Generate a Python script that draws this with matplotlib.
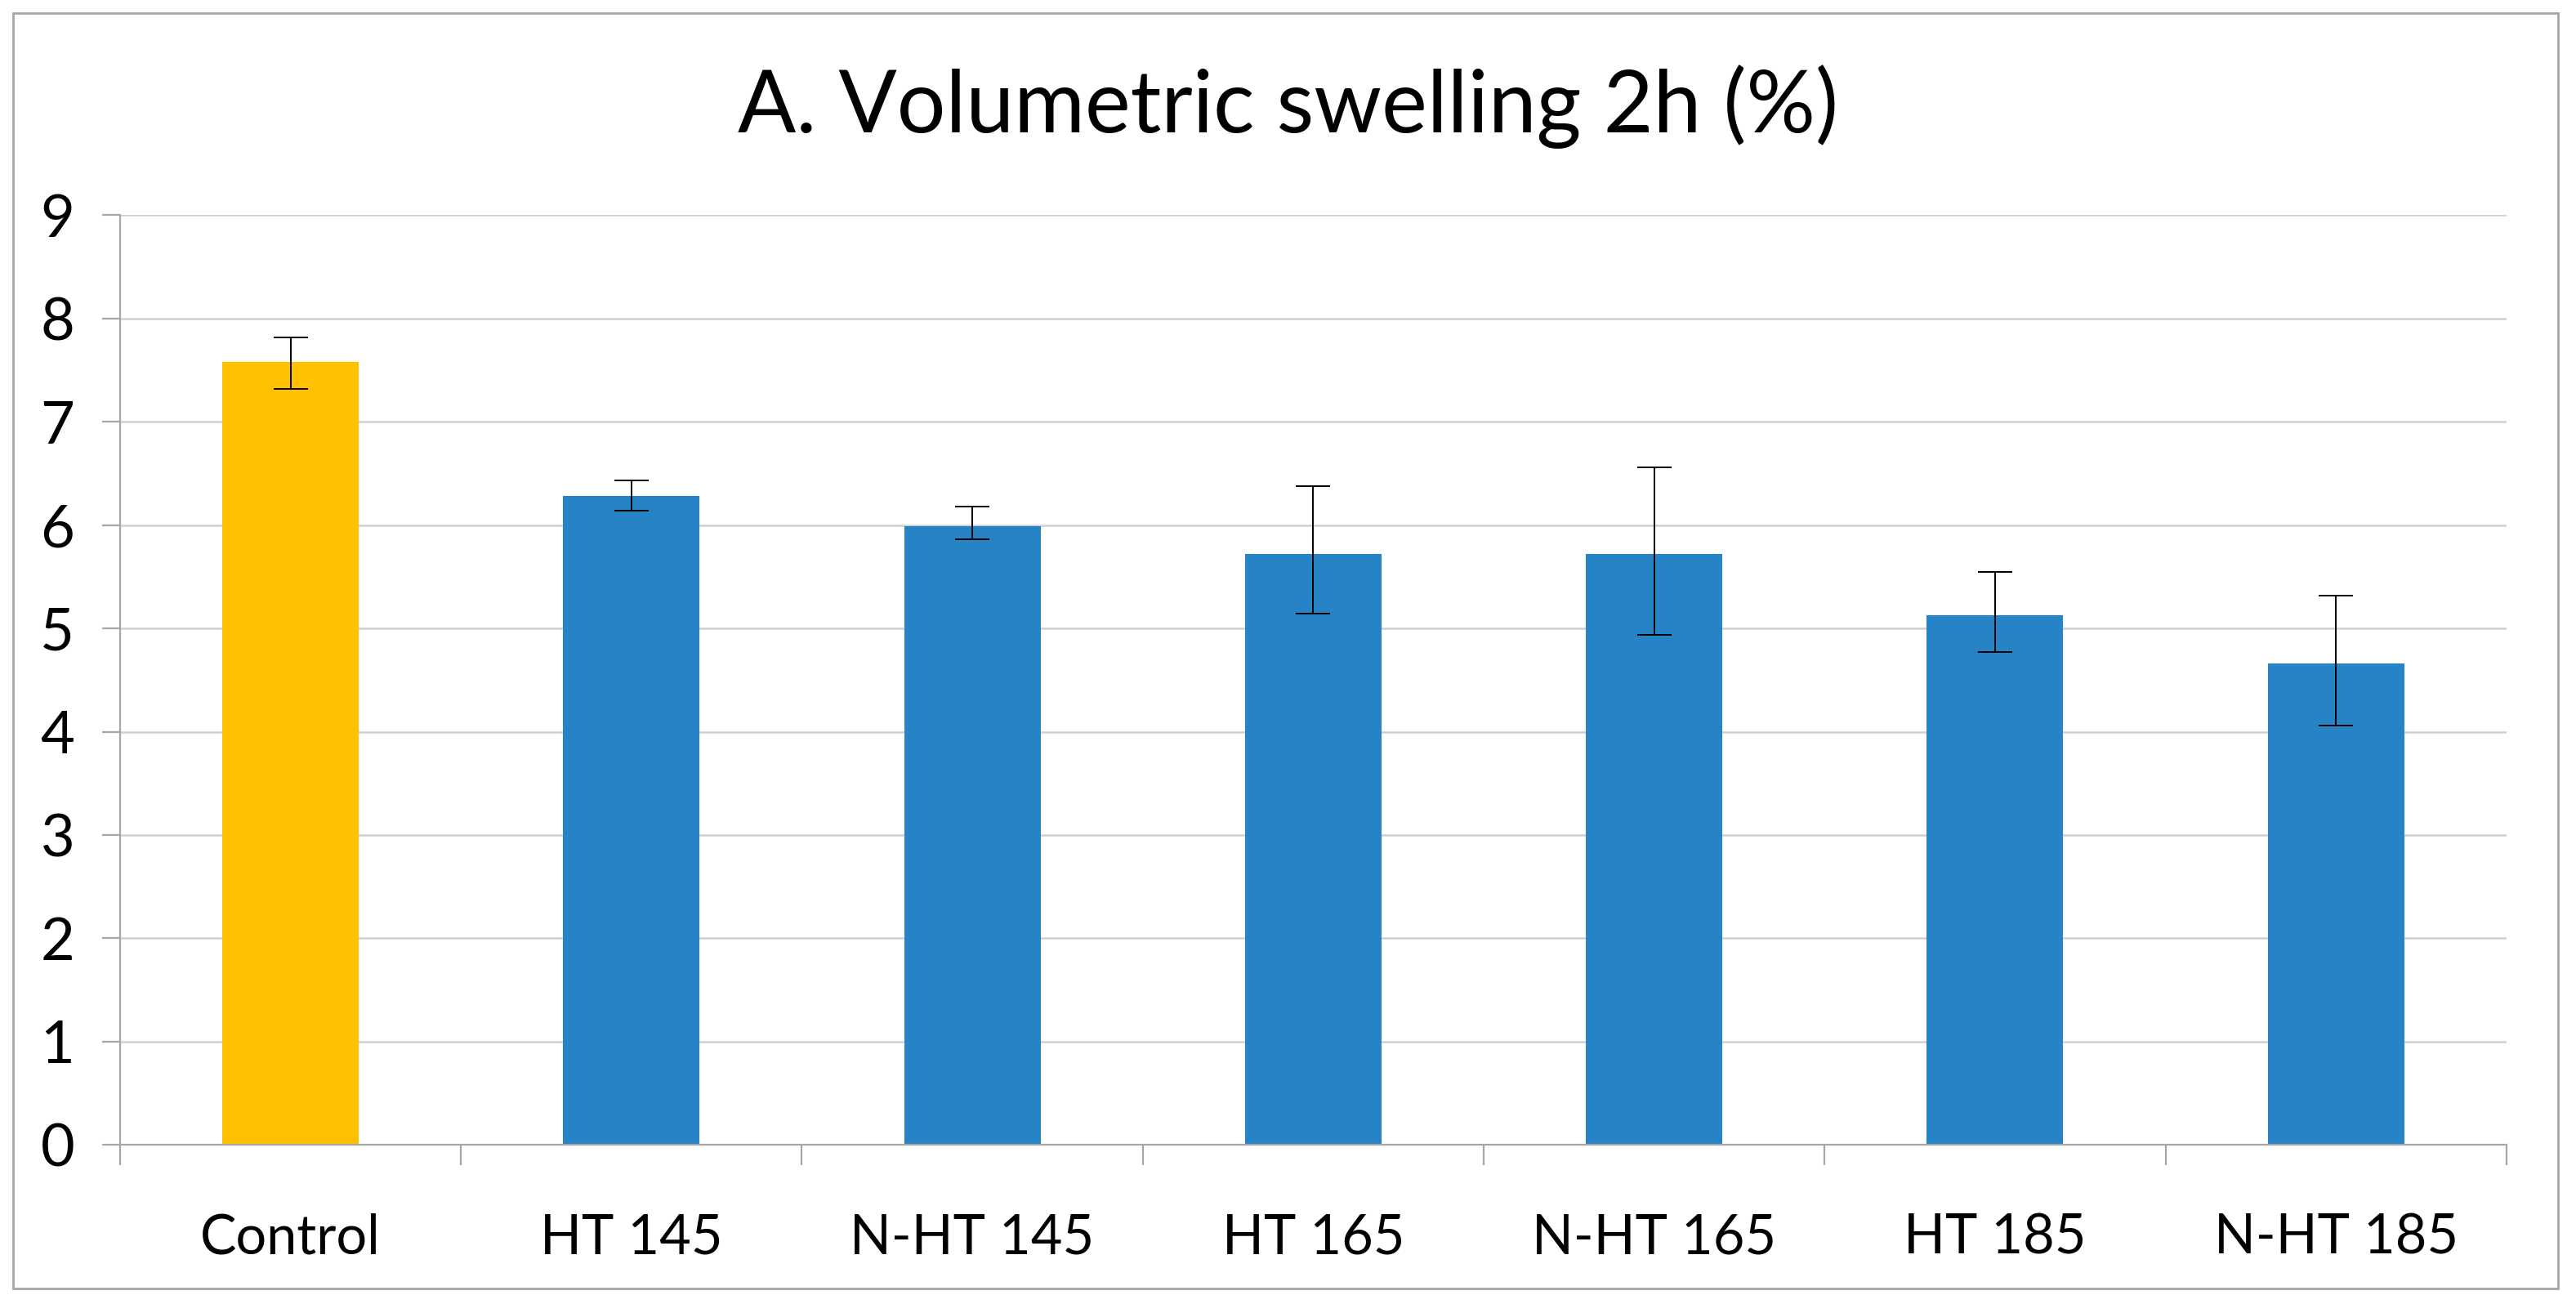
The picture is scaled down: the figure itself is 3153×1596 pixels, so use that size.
import matplotlib
matplotlib.use("Agg")
import matplotlib.pyplot as plt
from matplotlib.patches import Rectangle
import numpy

plt.rcParams['font.family'] = ['Lato', 'DejaVu Sans']

groups = ["Control", "HT 145", "N-HT 145", "HT 165", "N-HT 165", "HT 185", "N-HT 185"]
werte = [7.58, 6.28, 5.99, 5.72, 5.72, 5.13, 4.66]
err_oben = [7.82, 6.43, 6.18, 6.38, 6.56, 5.55, 5.32]
err_unten = [7.32, 6.14, 5.86, 5.14, 4.94, 4.77, 4.06]
farben = ["#FFC000", "#2683C6", "#2683C6", "#2683C6", "#2683C6", "#2683C6", "#2683C6"]
y_ticks = [0, 1, 2, 3, 4, 5, 6, 7, 8, 9]

fig = plt.figure(figsize=(15.765, 7.98), dpi=200)
ax = fig.add_axes([0.0466, 0.122, 0.9264, 0.713])

x = numpy.arange(len(groups))
werte = numpy.array(werte)
yerr = [werte - numpy.array(err_unten), numpy.array(err_oben) - werte]

ax.bar(x, werte, width=0.4, color=farben, zorder=2)
ax.errorbar(x, werte, yerr=yerr, fmt='none', ecolor='black', elinewidth=0.7,
            capsize=7.5, capthick=0.7, zorder=3)

ax.set_xlim(-0.5, len(groups) - 0.5)
ax.set_ylim(0, 9)
ax.set_yticks(y_ticks)
ax.set_yticklabels([str(t) for t in y_ticks], fontsize=26)
ax.set_xticks(x)
ax.set_xticklabels(groups, fontsize=24)
ax.tick_params(axis='x', which='major', length=0, pad=30)
ax.set_xticks(numpy.arange(-0.5, len(groups), 1.0), minor=True)
ax.tick_params(axis='x', which='minor', length=9, color='#A6A6A6', width=0.8)
ax.tick_params(axis='y', length=8, color='#A6A6A6', width=0.8, pad=12)

ax.grid(axis='y', color='#D0D0D0', linewidth=0.9, zorder=0)
for s in ['top', 'right']:
    ax.spines[s].set_visible(False)
ax.spines['left'].set_color('#A6A6A6')
ax.spines['bottom'].set_color('#A6A6A6')
ax.spines['left'].set_linewidth(0.8)
ax.spines['bottom'].set_linewidth(0.8)

fig.text(0.5, 0.918, "A. Volumetric swelling 2h (%)", ha='center', va='center', fontsize=38)

# Rahmen um das ganze Diagramm
fig.patches.append(Rectangle((0.005, 0.012), 0.988, 0.978, transform=fig.transFigure,
                             fill=False, edgecolor='#A6A6A6', linewidth=1.0))

fig.savefig("out.png", dpi=200)
